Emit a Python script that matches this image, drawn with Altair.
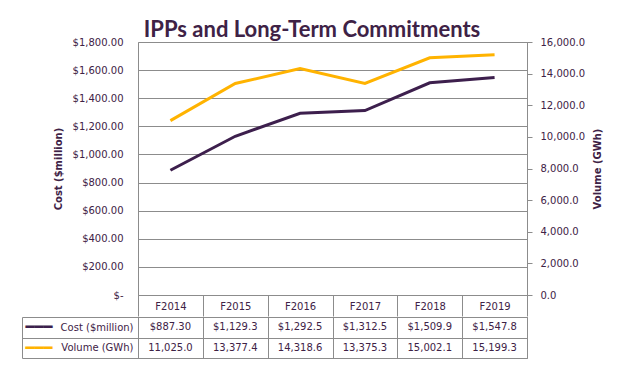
import altair as alt
import pandas as pd

years = ["F2014", "F2015", "F2016", "F2017", "F2018", "F2019"]
cost = [887.30, 1129.3, 1292.5, 1312.5, 1509.9, 1547.8]
volume = [11025.0, 13377.4, 14318.6, 13375.3, 15002.1, 15199.3]
cost_labels = ["$887.30", "$1,129.3", "$1,292.5", "$1,312.5", "$1,509.9", "$1,547.8"]
volume_labels = ["11,025.0", "13,377.4", "14,318.6", "13,375.3", "15,002.1", "15,199.3"]
series = ["Cost ($million)", "Volume (GWh)"]
cost_ticks = [0, 200, 400, 600, 800, 1000, 1200, 1400, 1600, 1800]
volume_ticks = [0, 2000, 4000, 6000, 8000, 10000, 12000, 14000, 16000]

TEXT = "#3e2246"
PURPLE = "#3d1f4d"
GOLD = "#ffb300"
GRID = "#8c8c8c"
FONT = "DejaVu Sans"

df = pd.DataFrame({"year": years, "cost": cost, "volume": volume})
tbl = pd.DataFrame({
    "year": years * 2,
    "series": [series[0]] * len(years) + [series[1]] * len(years),
    "label": cost_labels + volume_labels,
})

W, H, TH = 389, 253, 41

xscale = alt.Scale(type="band", domain=years, paddingInner=0, paddingOuter=0)
header_axis = alt.Axis(
    title=None, orient="bottom", domain=True, domainColor=GRID, ticks=True,
    tickBand="extent", tickExtra=True, tickSize=21, tickColor=GRID,
    labelPadding=-15, labelFont=FONT, labelFontSize=10, labelColor=TEXT,
    grid=False, labelAngle=0,
)

base = alt.Chart(df).encode(
    x=alt.X("year:N", scale=xscale, axis=header_axis, bandPosition=0.5)
)

cost_line = base.mark_line(color=PURPLE, strokeWidth=3).encode(
    y=alt.Y(
        "cost:Q",
        scale=alt.Scale(domain=[0, 1800], nice=False),
        axis=alt.Axis(
            title="Cost ($million)", orient="left", values=cost_ticks,
            labelExpr="datum.value == 0 ? '$-\u00a0\u00a0' : '$' + format(datum.value, ',.2f')",
            grid=True, gridColor=GRID, ticks=False, domain=False,
            labelPadding=15, labelFont=FONT, labelFontSize=10, labelColor=TEXT,
            titlePadding=9, titleFont=FONT, titleFontSize=10, titleFontWeight="bold",
            titleColor=TEXT,
        ),
    )
)

vol_line = base.mark_line(color=GOLD, strokeWidth=3).encode(
    y=alt.Y(
        "volume:Q",
        scale=alt.Scale(domain=[0, 16000], nice=False),
        axis=alt.Axis(
            title="Volume (GWh)", orient="right", values=volume_ticks, format=",.1f",
            grid=False, ticks=True, tickSize=5, tickColor=GRID, domain=True,
            domainColor=GRID, labelPadding=8, labelFont=FONT, labelFontSize=10,
            labelColor=TEXT, titlePadding=8, titleFont=FONT, titleFontSize=10,
            titleFontWeight="bold", titleColor=TEXT, titleAngle=270,
            titleBaseline="top",
        ),
    )
)

line_chart = alt.layer(cost_line, vol_line).resolve_scale(y="independent").properties(
    width=W, height=H
)

tx_axis = alt.Axis(
    title=None, orient="bottom", labels=False, ticks=False, domain=False,
    grid=True, gridColor=GRID, tickBand="extent", tickExtra=True,
)
yscaleT = alt.Scale(type="band", domain=series, paddingInner=0, paddingOuter=0)
tbase = alt.Chart(tbl).encode(x=alt.X("year:N", scale=xscale, axis=tx_axis))

ttext = tbase.mark_text(font=FONT, fontSize=10, color=TEXT).encode(
    y=alt.Y(
        "series:N", scale=yscaleT,
        axis=alt.Axis(
            title=None, orient="left", grid=True, gridColor=GRID,
            tickBand="extent", tickExtra=True, tickSize=116, tickColor=GRID,
            domain=True, domainColor=GRID, labelPadding=-111, labelAlign="right",
            labelFont=FONT, labelFontSize=10, labelColor=TEXT, labelBaseline="middle",
        ),
    ),
    text="label:N",
)

tswatch = tbase.mark_text(opacity=0).encode(
    y=alt.Y(
        "series:N", scale=yscaleT,
        axis=alt.Axis(
            title=None, orient="left", offset=116, ticks=False, tickSize=0,
            grid=False, domain=True, domainColor=GRID,
            labelExpr="'\u2501\u2501\u2501'",
            labelColor=alt.ExprRef(expr=f"datum.value == '{series[0]}' ? '{PURPLE}' : '{GOLD}'"),
            labelFont=FONT, labelFontSize=15, labelAlign="left", labelPadding=-3,
            labelBaseline="middle",
        ),
    ),
    text="label:N",
)

table_chart = alt.layer(ttext, tswatch).resolve_scale(y="independent").properties(
    width=W, height=TH
)

chart = alt.vconcat(line_chart, table_chart, spacing=-6).properties(
    title=alt.TitleParams(
        "IPPs and Long-Term Commitments", font="Lato", fontSize=22,
        fontWeight="bold", color=TEXT, anchor="middle", frame="bounds", offset=-5,
    ),
    padding={"left": 13, "top": 10, "right": 5, "bottom": 5},
).configure_view(stroke=GRID, strokeWidth=1)

chart.save("out.html", embed_options={"renderer": "svg", "actions": False})
